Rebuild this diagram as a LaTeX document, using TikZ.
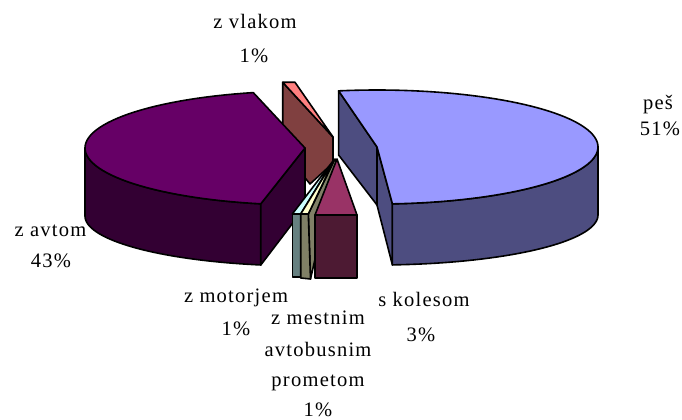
\documentclass[tikz,border=0pt]{standalone}
\usepackage{fontspec}
\setmainfont{Liberation Serif}[LetterSpace=6]
\definecolor{Pes_Top}{HTML}{9999FF}
\definecolor{Pes_Side}{HTML}{4D4D80}
\definecolor{Avto_Top}{HTML}{660066}
\definecolor{Avto_Side}{HTML}{330033}
\definecolor{Vlak_Top}{HTML}{FF8080}
\definecolor{Vlak_Side}{HTML}{804040}
\definecolor{Kolo_Top}{HTML}{993366}
\definecolor{Kolo_Side}{HTML}{4D1A33}
\definecolor{Bus_Top}{HTML}{FFFFCC}
\definecolor{Bus_Side}{HTML}{808066}
\definecolor{Motor_Top}{HTML}{CCFFFF}
\definecolor{Motor_Side}{HTML}{668080}

\begin{document}
\begin{tikzpicture}[x=0.75pt, y=-0.75pt, line width=1.2pt, line join=round,
    slice/.style={draw=black},
    lbl/.style={anchor=base, inner sep=0pt, font=\fontsize{15.4}{18}\selectfont}]
    \useasboundingbox (0,0) rectangle (682,420);

    % z vlakom (behind)
    \filldraw[slice, fill=Vlak_Side] (282.7,82.3) -- (333,137) -- (333,163) -- (310,184) -- (282.7,150) -- cycle;
    \filldraw[slice, fill=Vlak_Top] (282.7,82.3) -- (295,82.3) -- (333,137) -- cycle;

    % z avtom
    \filldraw[slice, fill=Avto_Side] plot[domain=180:258.4, samples=40] ({305+220*cos(\x)},{148-57*sin(\x)})
        -- plot[domain=258.4:180, samples=40] ({305+220*cos(\x)},{216-50*sin(\x)}) -- cycle;
    \filldraw[slice, fill=Avto_Side] (305,148) -- (260.8,203.8) -- (260.8,265) -- (305,207) -- cycle;
    \filldraw[slice, fill=Avto_Top] (305,148) -- plot[domain=103.6:258.4, samples=60] ({305+220*cos(\x)},{148-57*sin(\x)}) -- cycle;

    % pes
    \filldraw[slice, fill=Pes_Side] (338.6,90.9) -- (377,147) -- (377,205) -- (338.6,155) -- cycle;
    \filldraw[slice, fill=Pes_Side] (377,147) -- (392.4,203.9) -- (392.4,265) -- (377,205) -- cycle;
    \filldraw[slice, fill=Pes_Side] plot[domain=-86:0, samples=40] ({377+221*cos(\x)},{147-57*sin(\x)})
        -- plot[domain=0:-86, samples=40] ({377+221*cos(\x)},{215-50*sin(\x)}) -- cycle;
    \filldraw[slice, fill=Pes_Top] (377,147) -- plot[domain=-86:100, samples=80] ({377+221*cos(\x)},{147-57*sin(\x)}) -- cycle;

    % z motorjem
    \filldraw[slice, fill=Motor_Side] (292.3,214) rectangle (300.7,277);
    \filldraw[slice, fill=Motor_Top] (292.3,214) -- (300.7,214) -- (333,161) -- cycle;

    % z mestnim avtobusnim prometom
    \filldraw[slice, fill=Bus_Side] (308.3,214) -- (335,159) -- (337,163) -- (310.5,279) -- cycle;
    \filldraw[slice, fill=Bus_Side] (300.7,214) -- (308.3,214) -- (310.5,279) -- (300.7,278) -- cycle;
    \filldraw[slice, fill=Bus_Top] (300.7,214) -- (308.3,214) -- (334,160) -- cycle;

    % s kolesom
    \filldraw[slice, fill=Kolo_Side] (315,215) rectangle (357,278);
    \filldraw[slice, fill=Kolo_Top] (315,215) -- (357,215) -- (337,159) -- cycle;

    % Labels
    \node[lbl] (vlak) at (255,29) {z vlakom};
    \node[lbl] (vlakPct) at (254,63) {1\%};
    \node[lbl] (pes) at (658,110) {peš};
    \node[lbl] (pesPct) at (660,136) {51\%};
    \node[lbl] (avto) at (50.5,236.7) {z avtom};
    \node[lbl] (avtoPct) at (51,268) {43\%};
    \node[lbl] (motor) at (236,302.7) {z motorjem};
    \node[lbl] (motorPct) at (236,335) {1\%};
    \node[lbl] (bus) at (318,325) {z mestnim};
    \node[lbl] (busB) at (318,356) {avtobusnim};
    \node[lbl] (busC) at (318,387) {prometom};
    \node[lbl] (busPct) at (318,416.5) {1\%};
    \node[lbl] (kolo) at (424,306.7) {s kolesom};
    \node[lbl] (koloPct) at (421,341.7) {3\%};
\end{tikzpicture}
\end{document}
